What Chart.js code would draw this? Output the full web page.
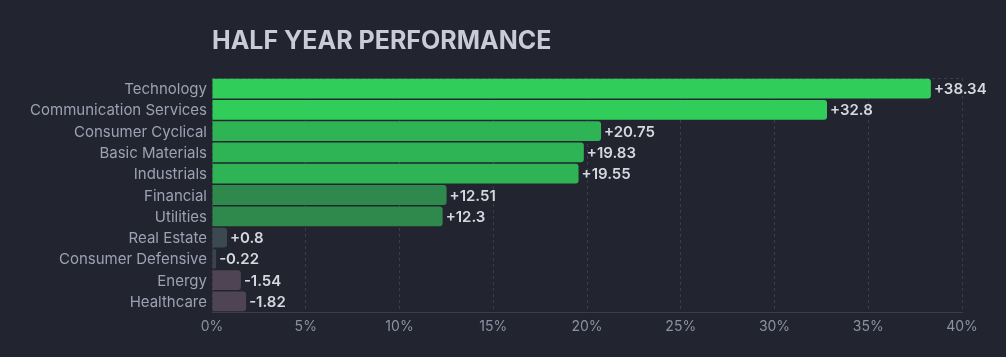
<!DOCTYPE html>
<html>
<head>
<meta charset="utf-8">
<script src="https://cdn.jsdelivr.net/npm/chart.js@4/dist/chart.umd.min.js"></script>
<style>
  html, body { margin: 0; padding: 0; background: #22252f; }
  #wrap { width: 1006px; height: 357px; position: relative; }
</style>
</head>
<body>
<div id="wrap"><canvas id="c"></canvas></div>
<script>
const chartTitle = 'HALF YEAR PERFORMANCE';
const sectors = ['Technology', 'Communication Services', 'Consumer Cyclical', 'Basic Materials', 'Industrials', 'Financial', 'Utilities', 'Real Estate', 'Consumer Defensive', 'Energy', 'Healthcare'];
const performance = [38.34, 32.8, 20.75, 19.83, 19.55, 12.51, 12.3, 0.8, -0.22, -1.54, -1.82];
const barColors = ['#30cd5b', '#30cd5b', '#2fb455', '#2fb455', '#2fb455', '#30894c', '#30894c', '#3c4951', '#3b4350', '#4e4454', '#4e4454'];
const xTicks = [0, 5, 10, 15, 20, 25, 30, 35, 40];

const FONT = 'Inter, "Noto Sans", sans-serif';
const GRID = '#3a3e4b';

const titlePlugin = {
  id: 'leftTitle',
  afterDraw(chart) {
    const ctx = chart.ctx;
    ctx.save();
    ctx.font = 'bold 25px ' + FONT;
    ctx.fillStyle = '#c9cbd6';
    ctx.textBaseline = 'middle';
    ctx.textAlign = 'left';
    ctx.fillText(chartTitle, chart.chartArea.left, 41);
    ctx.restore();
  }
};

const valueLabels = {
  id: 'valueLabels',
  afterDatasetsDraw(chart) {
    const ctx = chart.ctx;
    const meta = chart.getDatasetMeta(0);
    ctx.save();
    ctx.font = '600 15px ' + FONT;
    ctx.fillStyle = '#d6d8df';
    ctx.textBaseline = 'middle';
    ctx.textAlign = 'left';
    meta.data.forEach((bar, i) => {
      const v = performance[i];
      const txt = (v > 0 ? '+' : '') + v;
      ctx.fillText(txt, bar.x + 3, bar.y + 1);
    });
    ctx.restore();
  }
};

new Chart(document.getElementById('c'), {
  type: 'bar',
  data: {
    labels: sectors,
    datasets: [{
      data: performance.map(v => Math.abs(v)),
      backgroundColor: barColors,
      borderRadius: 3,
      borderSkipped: 'start',
      barPercentage: 0.93,
      categoryPercentage: 1.0
    }]
  },
  plugins: [titlePlugin, valueLabels],
  options: {
    indexAxis: 'y',
    responsive: true,
    maintainAspectRatio: false,
    animation: false,
    layout: { padding: { top: 78, right: 44, left: 0, bottom: 0 } },
    plugins: {
      legend: { display: false },
      tooltip: { enabled: false },
      title: { display: false }
    },
    scales: {
      x: {
        min: 0,
        max: 40,
        afterBuildTicks(scale) { scale.ticks = xTicks.map(v => ({ value: v })); },
        afterFit(scale) { scale.height = 45; },
        grid: {
          color: GRID,
          lineWidth: 1,
          drawTicks: false
        },
        border: { display: true, color: GRID, dash: [3, 3] },
        ticks: {
          color: '#8c91a3',
          font: { family: FONT, size: 14 },
          padding: 6,
          callback: v => v + '%'
        }
      },
      y: {
        afterFit(scale) { scale.width = 212; },
        grid: {
          offset: true,
          color: ctx => ctx.index === 0 ? GRID : 'rgba(0,0,0,0)',
          drawTicks: false
        },
        border: { display: false, dash: [3, 3] },
        ticks: {
          color: '#9ca1b3',
          font: { family: FONT, size: 15 },
          padding: 5,
          labelOffset: 1
        }
      }
    }
  }
});
</script>
</body>
</html>
